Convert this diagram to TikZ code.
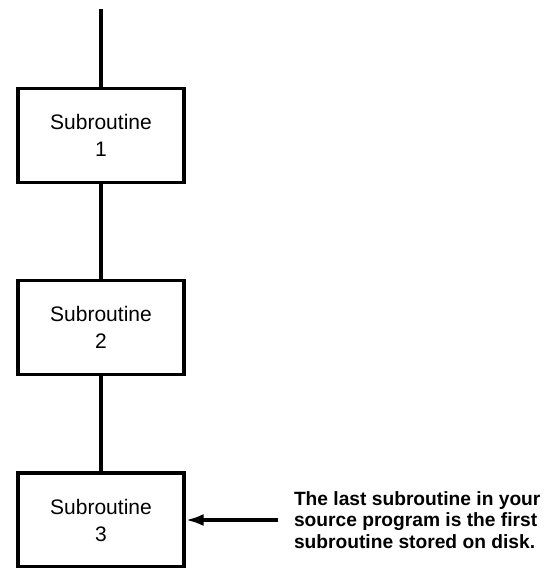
\documentclass[tikz,border=0pt]{standalone}
\usepackage{fontspec}
\setmainfont{Liberation Sans}
\usepackage{tikz}
\usetikzlibrary{arrows.meta,positioning}

\begin{document}
\begin{tikzpicture}[
    box/.style={draw, line width=1.6pt, align=center, minimum width=83pt, minimum height=47pt,
      font=\fontsize{10.5}{13.5}\selectfont},
    note/.style={align=left, inner xsep=8pt, font=\fontsize{9.6}{10.75}\selectfont\bfseries},
    node distance=47.5pt
  ]
  \useasboundingbox (0,0) rectangle (274pt,-284pt);
  \coordinate (start) at (50.5pt,-4.5pt);
  \node[box, below=39pt of start] (sub1) {Subroutine\\1};
  \node[box, below=of sub1] (sub2) {Subroutine\\2};
  \node[box, below=of sub2] (sub3) {Subroutine\\3};
  \node[note, right=46pt of sub3] (last) {The last subroutine in your\\source program is the first\\subroutine stored on disk.};

  \draw[line width=2pt] (start) -- (sub1);
  \draw[line width=2pt] (sub1) -- (sub2);
  \draw[line width=2pt] (sub2) -- (sub3);
  \draw[-{Latex[length=9pt,width=6pt]}, line width=2pt] (last.west) -- (sub3.east);
\end{tikzpicture}
\end{document}
